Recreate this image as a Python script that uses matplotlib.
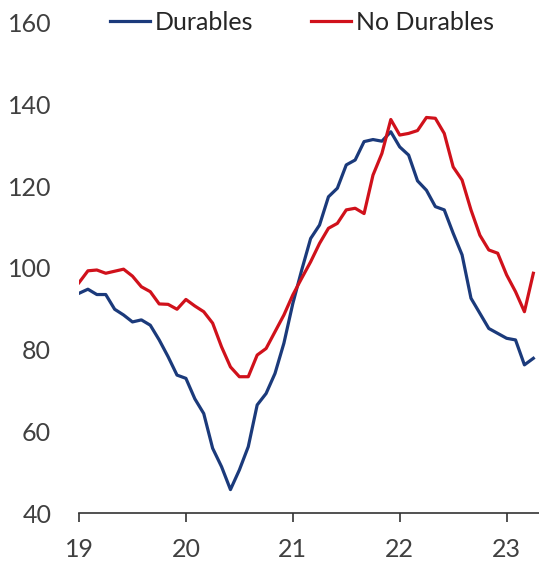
import numpy as np
import matplotlib
matplotlib.use("Agg")
import matplotlib.pyplot as plt

# Monthly index values, Jan 2019 - Apr 2023
durables = [93.8, 94.8, 93.5, 93.5, 89.9, 88.5, 86.8, 87.3, 86.0, 82.4,
            78.3, 73.8, 73.0, 68.0, 64.4, 55.9, 51.4, 45.8, 50.6, 56.3,
            66.5, 69.3, 74.2, 81.6, 91.3, 99.5, 107.2, 110.5, 117.4, 119.5,
            125.2, 126.4, 130.9, 131.4, 131.0, 133.3, 129.6, 127.6, 121.3, 119.0,
            115.0, 114.2, 108.5, 103.2, 92.6, 88.9, 85.2, 84.0, 82.8, 82.4,
            76.3, 77.9]
no_durables = [96.4, 99.3, 99.5, 98.7, 99.2, 99.7, 98.0, 95.4, 94.2, 91.2,
               91.1, 89.9, 92.3, 90.7, 89.3, 86.5, 80.7, 75.8, 73.4, 73.4,
               78.7, 80.3, 84.4, 88.5, 93.4, 97.5, 101.5, 106.0, 109.7, 110.9,
               114.2, 114.6, 113.3, 122.7, 128.0, 136.3, 132.5, 132.9, 133.6, 136.8,
               136.6, 132.9, 124.7, 121.5, 114.2, 108.0, 104.4, 103.6, 98.3, 94.2,
               89.3, 98.7]
year_ticks = [19, 20, 21, 22, 23]
y_ticks = [40, 60, 80, 100, 120, 140, 160]

months = 19 + np.arange(len(durables)) / 12

plt.rcParams['font.family'] = ['Lato', 'DejaVu Sans']

fig = plt.figure(figsize=(5.39, 5.65), dpi=100)
ax = fig.add_axes([0.1466, 0.0915, 0.8534, 0.8685])

ax.plot(months, durables, color="#1B3A7B", lw=2.3, label="Durables")
ax.plot(months, no_durables, color="#D0111B", lw=2.3, label="No Durables")

ax.set_xlim(19, 23.303)
ax.set_ylim(40, 160)
ax.set_xticks(year_ticks)
ax.set_xticklabels([str(t) for t in year_ticks])
ax.set_yticks(y_ticks)

for s in ["top", "right", "left"]:
    ax.spines[s].set_visible(False)
ax.spines["bottom"].set_color("#333333")
ax.spines["bottom"].set_linewidth(1.2)

ax.tick_params(axis="x", direction="out", length=6.5, width=1.2, color="#333333",
               pad=11, labelsize=18, labelcolor="#404040")
ax.tick_params(axis="y", length=0, pad=20, labelsize=18, labelcolor="#404040")

ax.legend(loc="center", bbox_to_anchor=(0.485, 1.0), ncol=2, frameon=False,
          fontsize=18, handlelength=1.6, handletextpad=0.2, columnspacing=2.3,
          labelcolor="#262626")

fig.savefig("out.png", dpi=100)
